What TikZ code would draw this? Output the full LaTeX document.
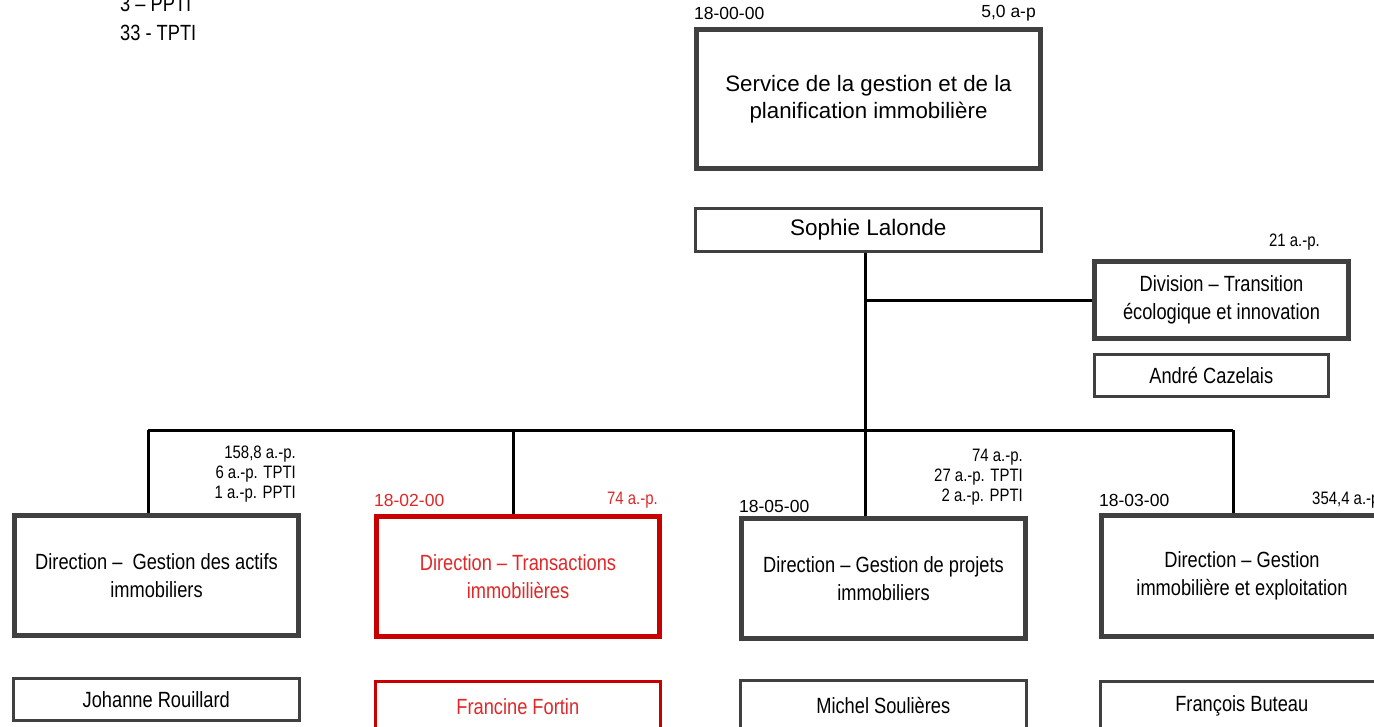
\documentclass[tikz,border=0pt]{standalone}
\usepackage{fontspec}
\setmainfont{Liberation Sans}
\newfontfamily\nar[FakeStretch=0.83]{Liberation Sans}
\definecolor{boxgray}{HTML}{404040}
\definecolor{redline}{HTML}{C80000}
\definecolor{redtext}{HTML}{E02828}
\begin{document}
\begin{tikzpicture}[x=1pt,y=-1pt,
  thickbox/.style={draw=boxgray,line width=5pt,fill=white,anchor=north west,align=center,inner sep=0pt,
    font=\nar\fontsize{22}{28}\selectfont},
  thinbox/.style={draw=boxgray,line width=2.6pt,fill=white,anchor=north west,align=center,inner sep=0pt,
    font=\nar\fontsize{22}{24}\selectfont},
  redbox/.style={draw=redline,text=redtext},
  conn/.style={draw=black,line width=3pt},
  lbl/.style={inner sep=0pt,font=\fontsize{17.5}{20}\selectfont},
  lbln/.style={inner sep=0pt,align=right,font=\nar\fontsize{18}{20}\selectfont},
]
\useasboundingbox (0,0) rectangle (1374,726);
\fill[white] (0,0) rectangle (1374,726);

% legend at top left
\node[lbln,anchor=west,font=\nar\fontsize{22}{24}\selectfont] (l1) at (120,4) {3 – PPTI};
\node[lbln,anchor=west,font=\nar\fontsize{22}{24}\selectfont] (l2) at (120,33) {33 - TPTI};

% top service
\node[thickbox,minimum width=344pt,minimum height=139pt,font=\fontsize{22.3}{27}\selectfont] (top) at (694,27)
  {Service de la gestion et de la\\planification immobilière};
\node[lbl,anchor=west] (topc) at (694,13) {18-00-00};
\node[lbl,anchor=east] (topn) at (1036,13) {5,0 a-p};

\node[thinbox,minimum width=346pt,minimum height=43pt,font=\fontsize{22.5}{24}\selectfont] (soph) at (694,207) {Sophie Lalonde};

% division
\node[thickbox,minimum width=254pt,minimum height=77pt] (div) at (1092,259)
  {Division – Transition\\écologique et innovation};
\node[lbln,anchor=east] (divn) at (1320,242) {21 a.-p.};
\node[thinbox,minimum width=234pt,minimum height=42pt] (andre) at (1093,353) {André Cazelais};

% directions
\node[thickbox,minimum width=284pt,minimum height=120pt] (d1) at (12,513)
  {Direction –\ \ Gestion des actifs\\immobiliers};
\node[thinbox,minimum width=286pt,minimum height=42pt] (n1) at (12,677) {Johanne Rouillard};
\node[lbln,anchor=north east] (d1n) at (296,446) {158,8 a.-p.\\6 a.-p. TPTI\\1 a.-p. PPTI};

\node[thickbox,redbox,minimum width=283pt,minimum height=120pt] (d2) at (374,514)
  {Direction – Transactions\\immobilières};
\node[thinbox,redbox,minimum width=285pt,minimum height=50pt] (n2) at (374,680) {Francine Fortin};
\node[lbl,anchor=west,text=redtext] (d2c) at (374,500) {18-02-00};
\node[lbln,anchor=east,text=redtext] (d2n) at (658,500) {74 a.-p.};

\node[thickbox,minimum width=284pt,minimum height=120pt] (d3) at (739,516)
  {Direction – Gestion de projets\\immobiliers};
\node[thinbox,minimum width=286pt,minimum height=50pt] (n3) at (739,679) {Michel Soulières};
\node[lbl,anchor=west] (d3c) at (739,506) {18-05-00};
\node[lbln,anchor=north east] (d3n) at (1023,449) {74 a.-p.\\27 a.-p. TPTI\\2 a.-p. PPTI};

\node[thickbox,minimum width=281pt,minimum height=121pt] (d4) at (1099,513)
  {Direction – Gestion\\immobilière et exploitation};
\node[thinbox,minimum width=283pt,minimum height=50pt] (n4) at (1099,680) {François Buteau};
\node[lbl,anchor=west] (d4c) at (1099,500) {18-03-00};
\node[lbln,anchor=west] (d4n) at (1312,500) {354,4 a.-p.};

% connectors
\coordinate (hub) at (865,430);
\coordinate (divj) at (865,300);
\coordinate (b1) at (148,430);
\coordinate (b2) at (513,430);
\coordinate (b4) at (1233,430);
\draw[conn] (soph.south -| hub) -- (hub);
\draw[conn] (divj) -- (divj -| div.west);
\draw[conn] (b1) -- (b4);
\draw[conn] (b1) -- (b1 |- d1.north);
\draw[conn] (b2) -- (b2 |- d2.north);
\draw[conn] (hub) -- (hub |- d3.north);
\draw[conn] (b4) -- (b4 |- d4.north);
\end{tikzpicture}
\end{document}
